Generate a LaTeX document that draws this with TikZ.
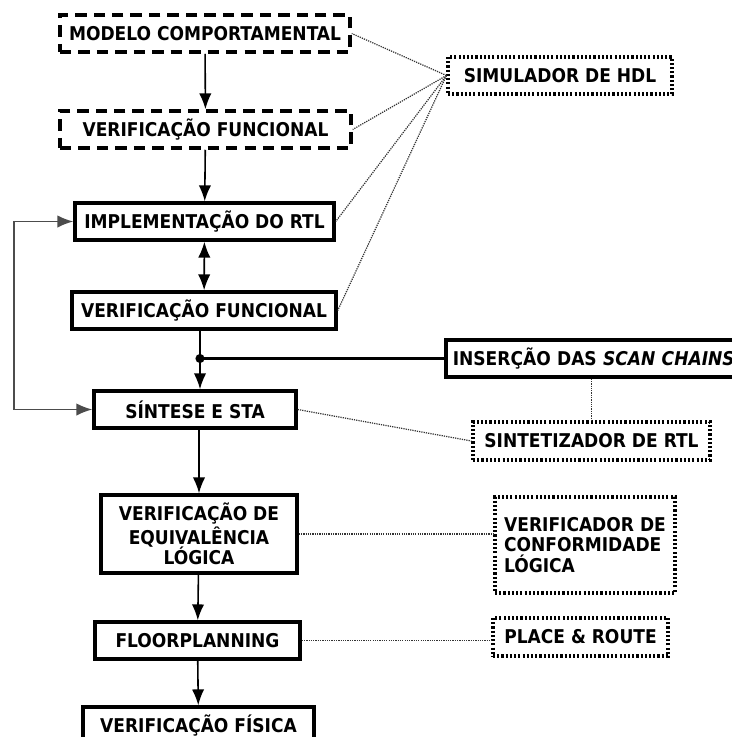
\documentclass[tikz,border=0pt]{standalone}
\usepackage{fontspec}
\setmainfont{DejaVu Sans Condensed}
\usepackage{tikz}
\usetikzlibrary{arrows.meta}

\tikzset{
	>={Latex[length=9pt,width=7pt]},
	stage/.style={draw, line width=2pt, minimum height=0.74cm, inner sep=2pt, font=\bfseries\fontsize{10.8}{11.6}\selectfont, align=center},
	draft/.style={stage, dash pattern=on 6.5pt off 4pt},
	tool/.style={stage, line width=1.8pt, dash pattern=on 1.2pt off 1.2pt},
	flow/.style={line width=0.9pt, ->},
	link/.style={line width=0.7pt, dash pattern=on 0.7pt off 0.6pt, black!80},
}

\begin{document}
\begin{tikzpicture}[x=0.02cm, y=-0.02cm]
			\useasboundingbox (0,0) rectangle (731,737);

			\node[draft, minimum width=5.8cm] (modelo) at (205,33.5) {MODELO COMPORTAMENTAL};
			\node[tool, minimum width=4.48cm] (simulador) at (560,75.5) {SIMULADOR DE HDL};
			\node[draft, minimum width=5.82cm] (verif1) at (205.5,129.5) {VERIFICAÇÃO FUNCIONAL};
			\node[stage, minimum width=5.18cm] (impl) at (204.5,221.5) {IMPLEMENTAÇÃO DO RTL};
			\node[stage, minimum width=5.28cm] (verif2) at (204,310.5) {VERIFICAÇÃO FUNCIONAL};
			\node[stage, anchor=west, text width=6cm, align=left, inner xsep=4pt] (scan) at (444,358.5) {INSERÇÃO DAS \textit{SCAN CHAINS}};
			\node[stage, minimum width=4.04cm] (sintese) at (195,409.5) {SÍNTESE E STA};
			\node[tool, minimum width=4.74cm, minimum height=0.76cm] (sintetizador) at (591.5,441) {SINTETIZADOR DE RTL};
			\node[stage, minimum width=3.92cm, minimum height=1.56cm] (equiv) at (199,534) {VERIFICAÇÃO DE\\EQUIVALÊNCIA\\LÓGICA};
			\node[tool, minimum width=3.6cm, minimum height=1.92cm, align=left] (conform) at (585,545) {VERIFICADOR DE\\CONFORMIDADE\\LÓGICA};
			\node[stage, minimum width=4.1cm] (floor) at (197.5,640.5) {FLOORPLANNING};
			\node[tool, minimum width=3.5cm, minimum height=0.76cm] (place) at (580.5,637) {PLACE \& ROUTE};
			\node[stage, minimum width=4.62cm] (fisica) at (198.5,725.5) {VERIFICAÇÃO FÍSICA};

			\draw[flow] (modelo) -- (verif1);
			\draw[flow] (verif1) -- (impl);
			\draw[flow, <->] (impl) -- (verif2);

			\coordinate (tap) at (200,358.5);
			\draw[line width=0.9pt] (tap |- verif2.south) -- (tap);
			\draw[flow] (tap) -- (tap |- sintese.north);
			\fill (tap) circle (2.6pt);
			\draw[line width=1.5pt] (tap) -- (scan.west);

			\draw[flow, <->, black!70] (impl.west) -- ++(-59,0) |- (sintese.west);

			\draw[flow] (equiv.north |- sintese.south) -- (equiv.north);
			\draw[flow] (equiv) -- (floor);
			\draw[flow] (floor) -- (fisica);

			\foreach \n in {modelo, verif1, impl, verif2}
				\draw[link] (simulador.west) -- (\n.east);
			\draw[link] (sintese.east) -- (sintetizador.west);
			\draw[link] (sintetizador.north |- scan.south) -- (sintetizador.north);
			\draw[link] (equiv.east) -- (equiv.east -| conform.west);
			\draw[link] (floor.east) -- (floor.east -| place.west);
\end{tikzpicture}
\end{document}
